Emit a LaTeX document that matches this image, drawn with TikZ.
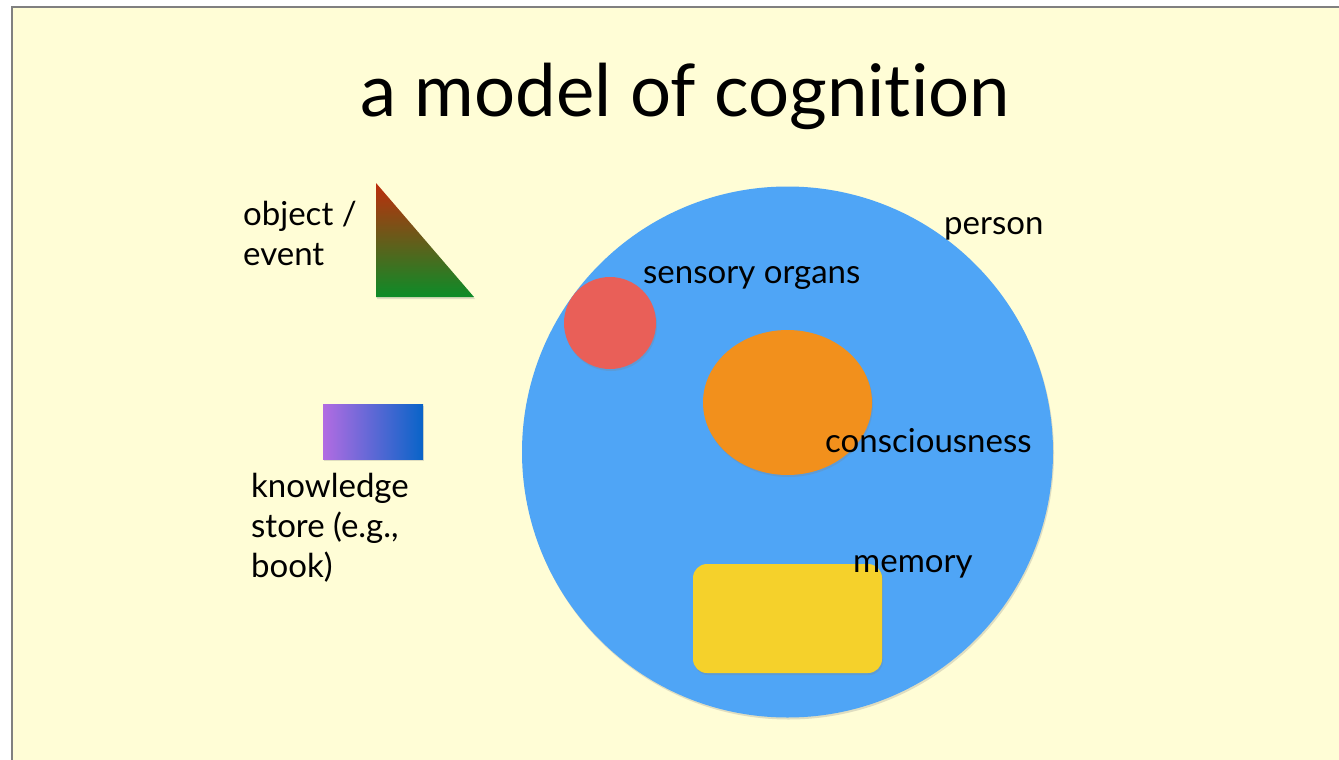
\documentclass[tikz,border=0pt]{standalone}
\usepackage{fontspec}
\setmainfont[Ligatures=NoCommon]{Lato}
\usetikzlibrary{shapes.geometric, shadows, positioning}

\definecolor{slidebg}{HTML}{FFFDD6}
\definecolor{personblue}{HTML}{4FA5F6}
\definecolor{organred}{HTML}{E95F58}
\definecolor{mindorange}{HTML}{F2901C}
\definecolor{memyellow}{HTML}{F5D12B}

\tikzset{
  shadowed/.style={drop shadow={opacity=0.25, shadow xshift=1pt, shadow yshift=-2pt}},
  lbl/.style={inner sep=0pt, anchor=base west, font=\fontsize{33}{40}\selectfont, align=left},
}

\begin{document}
\begin{tikzpicture}[x=1pt, y=-1pt]
    \useasboundingbox (0,0) rectangle (1339,760);
    \fill[white] (0,0) rectangle (1339,760);
    \fill[slidebg] (12,7) rectangle (1339,760);
    \draw[gray, line width=1.2pt] (12,760) -- (12,7) -- (1339,7);

    % title
    \node[inner sep=0pt, anchor=base, font=\fontsize{72.5}{80}\selectfont] (title) at (685,117) {a model of cognition};

    % shapes
    \shade[top color={rgb,255:red,190;green,45;blue,12}, bottom color={rgb,255:red,12;green,140;blue,40}, shadowed]
        (376,183) -- (376,297) -- (474,297) -- cycle;
    \shade[left color={rgb,255:red,178;green,108;blue,226}, right color={rgb,255:red,8;green,100;blue,200}, shadowed]
        (323,404) rectangle (423,459);

    \node[circle, fill=personblue, minimum size=531pt, inner sep=0pt, shadowed] (person) at (787.5,452) {};
    \node[circle, fill=organred, minimum size=92pt, inner sep=0pt, shadowed] (organs) at (610,323) {};
    \node[ellipse, fill=mindorange, minimum width=169pt, minimum height=145pt, inner sep=0pt, shadowed] (mind) at (787.5,402.5) {};
    \node[rectangle, rounded corners=14pt, fill=memyellow, minimum width=189pt, minimum height=109pt, inner sep=0pt, shadowed] (memory) at (787.5,618.5) {};

    % labels (multi-line ones sit on their last baseline)
    \node[lbl] (objlbl) at (243,265) {object /\\event};
    \node[lbl] (booklbl) at (251,577) {knowledge\\store (e.g.,\\book)};
    \node[lbl] (personlbl) at (944,234) {person};
    \node[lbl] (organslbl) at (643,283) {sensory organs};
    \node[lbl] (mindlbl) at (825,452) {consciousness};
    \node[lbl] (memlbl) at (853,572) {memory};
\end{tikzpicture}
\end{document}
